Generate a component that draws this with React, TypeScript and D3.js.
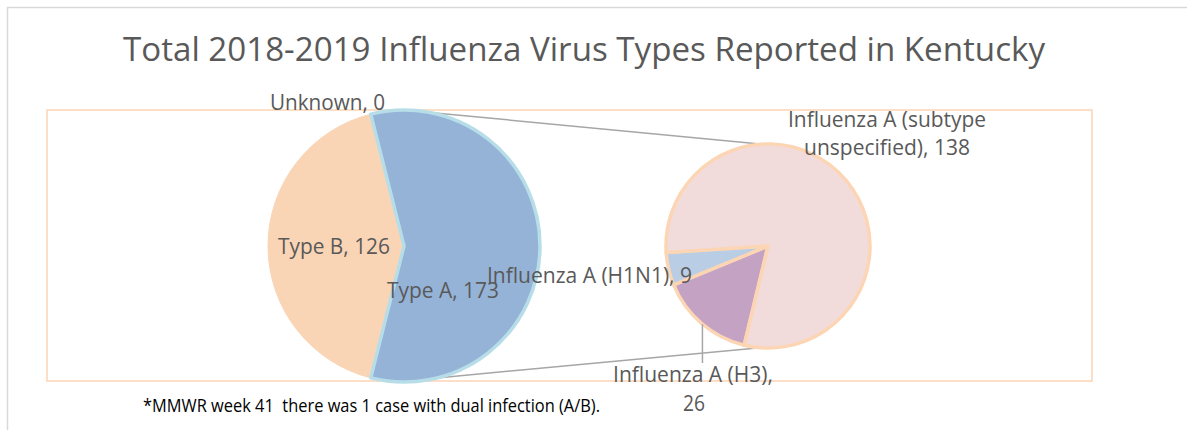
import React from "react";
import * as d3 from "d3";

// ---- data ----
const typeCategories = ["Type A", "Type B", "Unknown"];
const typeValues = [173, 126, 0];
const subCategories = ["Influenza A (H3)", "Influenza A (H1N1)", "Influenza A (subtype unspecified)"];
const subValues = [26, 9, 138];
const chartTitle = "Total 2018-2019 Influenza Virus Types Reported in Kentucky";
const footnote = "*MMWR week 41  there was 1 case with dual infection (A/B).";

// ---- styles ----
const W = 1187, H = 430;
const FONT = "'Open Sans', 'DejaVu Sans', sans-serif";
const TXT = "#595959";
const typeFill = ["#95b3d7", "#fad5b5", "#fad5b5"];
const typeStroke = ["#b7dee8", "#fad5b5", "#b7dee8"];
const subFill = ["#c4a2c3", "#b9cde5", "#f2dcdb"];
const subStroke = "#fcd5b4";
const deg = Math.PI / 180;

export default function App() {
  const c1 = { x: 404, y: 246, r: 136 };
  const c2 = { x: 768, y: 246, r: 102 };
  const total1 = d3.sum(typeValues);
  const aAngle = (typeValues[0] / total1) * 2 * Math.PI;
  const start1 = Math.PI / 2 - aAngle / 2;
  const pie1 = d3.pie<number>().sort(null).startAngle(start1).endAngle(start1 + 2 * Math.PI)(typeValues);
  const start2 = 193.5 * deg;
  const pie2 = d3.pie<number>().sort(null).startAngle(start2).endAngle(start2 + 2 * Math.PI)(subValues);
  const arc1 = d3.arc<d3.PieArcDatum<number>>().innerRadius(0).outerRadius(c1.r);
  const arc2 = d3.arc<d3.PieArcDatum<number>>().innerRadius(0).outerRadius(c2.r);
  const pt = (c: { x: number; y: number; r: number }, a: number) => [c.x + c.r * Math.sin(a * deg), c.y - c.r * Math.cos(a * deg)];
  const [t1x, t1y] = pt(c1, 11);
  const [t2x, t2y] = pt(c2, -3);
  const [b1x, b1y] = pt(c1, 166);
  const [b2x, b2y] = pt(c2, 184.5);
  const [lx, ly] = pt(c2, 220);

  const order1 = [1, 2, 0];
  const lbl = { fontFamily: FONT, fontSize: 22, fill: TXT } as const;

  return (
    <svg width={W} height={H} style={{ position: "absolute", left: 0, top: 0, background: "#fff" }}>
      <rect x={0} y={0} width={W} height={H} fill="#fff" />
      {/* outer chart border */}
      <path d={`M7.5,${H + 2} V7.5 H${W + 2}`} fill="none" stroke="#d9d9d9" strokeWidth={1.5} />
      {/* plot area */}
      <rect x={47} y={110} width={1045} height={271} fill="none" stroke="#fcd5b4" strokeWidth={1.5} />
      <text x={584} y={61} textAnchor="middle" textLength={922} lengthAdjust="spacingAndGlyphs" style={{ fontFamily: FONT, fontSize: 32, fill: TXT }}>
        {chartTitle}
      </text>
      {/* connectors */}
      <line x1={t1x} y1={t1y} x2={t2x} y2={t2y} stroke="#a6a6a6" strokeWidth={1.5} />
      <line x1={b1x} y1={b1y} x2={b2x} y2={b2y} stroke="#a6a6a6" strokeWidth={1.5} />
      {/* first pie */}
      <g transform={`translate(${c1.x},${c1.y})`}>
        {order1.map((i) => (
          <path key={typeCategories[i]} d={arc1(pie1[i]) || ""} fill={typeFill[i]} stroke={typeStroke[i]} strokeWidth={i === 0 ? 3.5 : 1} strokeLinejoin="round" />
        ))}
      </g>
      {/* second pie */}
      <g transform={`translate(${c2.x},${c2.y})`}>
        {pie2.map((d, i) => (
          <path key={subCategories[i]} d={arc2(d) || ""} fill={subFill[i]} stroke={subStroke} strokeWidth={3.5} strokeLinejoin="round" />
        ))}
      </g>
      {/* leader line for H3 */}
      <line x1={lx} y1={ly} x2={lx} y2={363} stroke="#a6a6a6" strokeWidth={1.5} />
      {/* labels */}
      <text x={270} y={110} textLength={115} lengthAdjust="spacingAndGlyphs" style={lbl}>{`${typeCategories[2]}, ${typeValues[2]}`}</text>
      <text x={278} y={254} textLength={112} lengthAdjust="spacingAndGlyphs" style={lbl}>{`${typeCategories[1]}, ${typeValues[1]}`}</text>
      <text x={387} y={298} textLength={112} lengthAdjust="spacingAndGlyphs" style={lbl}>{`${typeCategories[0]}, ${typeValues[0]}`}</text>
      <text x={487} y={283} textLength={205} lengthAdjust="spacingAndGlyphs" style={lbl}>{`${subCategories[1]}, ${subValues[1]}`}</text>
      <text x={788} y={127} textLength={198} lengthAdjust="spacingAndGlyphs" style={lbl}>Influenza A (subtype</text>
      <text x={804} y={155} textLength={166} lengthAdjust="spacingAndGlyphs" style={lbl}>{`unspecified), ${subValues[2]}`}</text>
      <text x={613} y={382} textLength={160} lengthAdjust="spacingAndGlyphs" style={lbl}>{`${subCategories[0]},`}</text>
      <text x={683} y={411} textLength={22} lengthAdjust="spacingAndGlyphs" style={lbl}>{`${subValues[0]}`}</text>
      <text x={143} y={412} textLength={457} lengthAdjust="spacingAndGlyphs" style={{ fontFamily: FONT, fontSize: 18.5, fill: "#000", whiteSpace: "pre" }}>
        {footnote}
      </text>
    </svg>
  );
}
